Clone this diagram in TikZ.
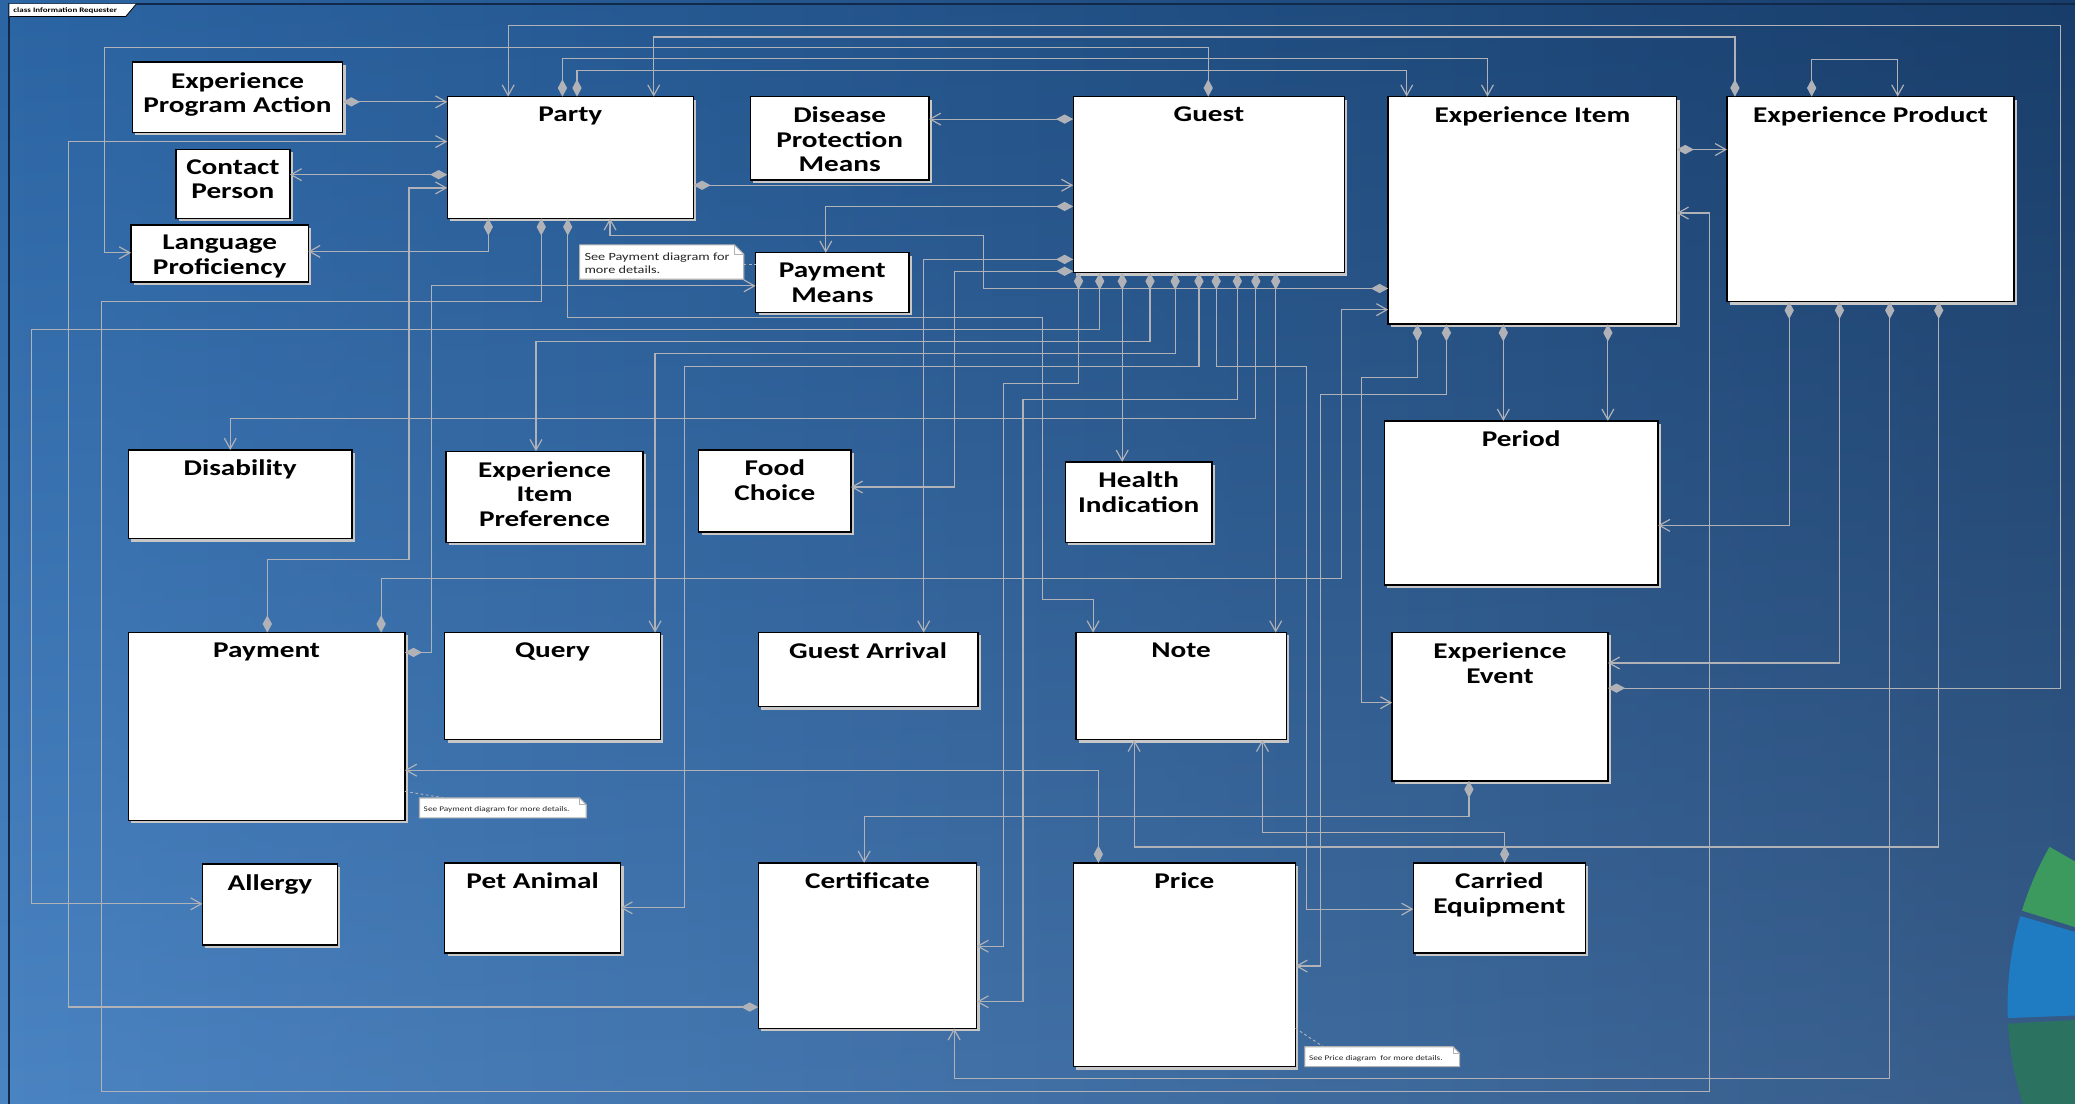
\documentclass[tikz,border=0pt]{standalone}
\usepackage{fontspec}
\setmainfont{Carlito}[FakeStretch=1.3]
\usetikzlibrary{arrows.meta,shadows}
\definecolor{lnc}{RGB}{176,178,184}
\definecolor{bgL}{HTML}{3273BA}
\definecolor{bgR}{HTML}{1C4679}
\definecolor{frm}{HTML}{10284A}
\definecolor{decG}{HTML}{3D9A5E}
\definecolor{decB}{HTML}{1F7CC2}
\definecolor{decT}{HTML}{2B7260}
\newcommand\umlbox[6]{%
  \node[box, minimum width={#4-#2}, minimum height={#5-#3}] (#1) at (#2,#3) {};
  \node[title] (#1-t) at ([yshift=-7.5pt]#1.north) {#6};}
\begin{document}
\begin{tikzpicture}[x=1pt,y=-1pt,
  box/.style={draw=black, line width=1.1pt, fill=white, inner sep=0pt, outer sep=0pt, anchor=north west,
    drop shadow={shadow xshift=2.2pt, shadow yshift=-2.2pt, fill=black!22, opacity=1}},
  title/.style={font=\bfseries\fontsize{17}{18.5}\selectfont, align=center, inner sep=0pt, anchor=north, text=black},
  conn/.style={draw=lnc, line width=0.9pt},
  comp/.style={conn, {Diamond[length=13pt,width=7pt,fill=lnc]}-{Straight Barb[length=8pt,width=9pt]}},
  notelink/.style={draw=lnc, line width=0.7pt, dash pattern=on 2pt off 2pt},
  notearea/.style={inner sep=0pt, outer sep=0pt, anchor=north west},
  notefill/.style={fill=white, draw=black!30, line width=0.8pt},
  notetext/.style={inner sep=0pt, anchor=west, align=left, text=black!85}]
\useasboundingbox (0,0) rectangle (1568,834);
% background
\shade[left color=bgL, right color=bgR] (0,0) rectangle (1568,834);
\shade[top color=black, bottom color=white, opacity=0.12] (0,0) rectangle (1568,834);
\begin{scope}
  \clip (0,0) rectangle (1568,834);
  \fill[decG] (1760,760) -- ++(209.6:243) arc[start angle=209.6, end angle=197.2, radius=243] -- cycle;
  \fill[decB] (1760,760) -- ++(196.2:243) arc[start angle=196.2, end angle=177.8, radius=243] -- cycle;
  \fill[decT] (1760,760) -- ++(176.8:243) arc[start angle=176.8, end angle=140, radius=243] -- cycle;
\end{scope}
% frame
\draw[frm, line width=1.2pt] (1568,3) -- (7,3) -- (7,834);
\fill[white] (7,3) -- (103,3) -- (95,12.5) -- (7,12.5) -- cycle;
\draw[black, line width=0.6pt] (103,3) -- (95,12.5) -- (7,12.5);
\node[inner sep=0pt, anchor=west, font=\bfseries\fontsize{5.2}{6}\selectfont] (frametitle) at (10,8) {class Information Requester};

% boxes
\umlbox{epa}{100}{47}{259}{100}{Experience\\Program Action}
\umlbox{party}{338}{73}{524}{165}{Party}
\umlbox{contact}{133}{113}{219}{165}{Contact\\Person}
\umlbox{lang}{99}{170}{233}{213}{Language\\Proficiency}
\umlbox{dpm}{567}{73}{702}{136}{Disease\\Protection\\Means}
\umlbox{pm}{571}{191}{687}{236}{Payment\\Means}
\umlbox{guest}{811}{73}{1016}{206}{Guest}
\umlbox{ei}{1049}{73}{1267}{245}{Experience Item}
\umlbox{ep}{1305}{73}{1522}{228}{Experience Product}
\umlbox{dis}{97}{340}{266}{407}{Disability}
\umlbox{eip}{337}{341}{486}{410}{Experience\\Item\\Preference}
\umlbox{food}{528}{340}{643}{402}{Food\\Choice}
\umlbox{health}{805}{349}{916}{410}{Health\\Indication}
\umlbox{period}{1046}{318}{1253}{442}{Period}
\umlbox{pay}{97}{478}{306}{620}{Payment}
\umlbox{query}{336}{478}{499}{559}{Query}
\umlbox{ga}{573}{478}{739}{534}{Guest Arrival}
\umlbox{note}{813}{478}{972}{559}{Note}
\umlbox{ee}{1052}{478}{1215}{590}{Experience\\Event}
\umlbox{allergy}{153}{653}{255}{714}{Allergy}
\umlbox{pet}{336}{652}{469}{720}{Pet Animal}
\umlbox{cert}{573}{652}{738}{777}{Certificate}
\umlbox{price}{811}{652}{979}{806}{Price}
\umlbox{ce}{1068}{652}{1198}{720}{Carried\\Equipment}

% notes
\node[notearea, minimum width=124, minimum height=26] (n1) at (438,185) {};
\path[notefill] (n1.south west) -- (n1.north west) -- ([xshift=-7pt]n1.north east) -- ([yshift=-7pt]n1.north east) -- (n1.south east) -- cycle;
\draw[black!30, line width=0.6pt] ([xshift=-7pt]n1.north east) -- ([xshift=-7pt,yshift=-7pt]n1.north east) -- ([yshift=-7pt]n1.north east);
\node[notetext, font=\fontsize{8.3}{9.3}\selectfont] (n1-t) at ([xshift=3.5pt,yshift=-1pt]n1.west) {See Payment diagram for\\more details.};

\node[notearea, minimum width=126, minimum height=15] (n2) at (317,603) {};
\path[notefill] (n2.south west) -- (n2.north west) -- ([xshift=-5pt]n2.north east) -- ([yshift=-5pt]n2.north east) -- (n2.south east) -- cycle;
\draw[black!30, line width=0.5pt] ([xshift=-5pt]n2.north east) -- ([xshift=-5pt,yshift=-5pt]n2.north east) -- ([yshift=-5pt]n2.north east);
\node[notetext, font=\fontsize{5.4}{6}\selectfont] (n2-t) at ([xshift=3pt,yshift=-1.5pt]n2.west) {See Payment diagram for more details.};

\node[notearea, minimum width=117, minimum height=15] (n3) at (986,791) {};
\path[notefill] (n3.south west) -- (n3.north west) -- ([xshift=-5pt]n3.north east) -- ([yshift=-5pt]n3.north east) -- (n3.south east) -- cycle;
\draw[black!30, line width=0.5pt] ([xshift=-5pt]n3.north east) -- ([xshift=-5pt,yshift=-5pt]n3.north east) -- ([yshift=-5pt]n3.north east);
\node[notetext, font=\fontsize{5.4}{6}\selectfont] (n3-t) at ([xshift=3pt,yshift=-1.5pt]n3.west) {See Price diagram\ \ for more details.};

\draw[notelink] (n1.east |- 0,200) -- (pm.west |- 0,200);
\draw[notelink] (pay.east |- 0,598) -- (n2.north -| 336,0);
\draw[notelink] (price.east |- 0,777) -- (n3.north -| 1000,0);

% connectors
\draw[comp] (epa.east |- 0,77) -- (party.west |- 0,77);
\draw[comp] (party.west |- 0,132) -- (contact.east |- 0,132);
\draw[comp] (party.south -| 369,0) |- (lang.east |- 0,190);
\draw[comp] (cert.west |- 0,761) -| (52,107) -- (party.west |- 0,107);
\draw[comp] (pay.north -| 202,0) |- (309,423) |- (party.west |- 0,142);
\draw[comp] (guest.north -| 913,0) |- (79,36) |- (lang.west |- 0,191);
\draw[comp] (ee.east |- 0,520) -| (1557,19) -| (party.north -| 384,0);
\draw[comp] (ep.north -| 1311,0) |- (494,28) -- (party.north -| 494,0);
\draw[comp] (party.north -| 425,0) |- (1124,44) -- (ei.north -| 1124,0);
\draw[comp] (party.north -| 436,0) |- (1063,53) -- (ei.north -| 1063,0);
\draw[comp] (ep.north -| 1369,0) |- (1434,45) -- (ep.north -| 1434,0);
\draw[comp] (ei.east |- 0,113) -- (ep.west |- 0,113);
\draw[comp] (party.east |- 0,140) -- (guest.west |- 0,140);
\draw[comp] (guest.west |- 0,90) -- (dpm.east |- 0,90);
\draw[comp] (guest.west |- 0,156) -| (pm.north -| 624,0);
\draw[comp] (guest.west |- 0,196) -| (ga.north -| 698,0);
\draw[comp] (guest.west |- 0,205) -| (721,368) -- (food.east |- 0,368);
\draw[comp] (ei.west |- 0,218) -| (743,178) -| (party.south -| 461,0);
\draw[comp] (pay.east |- 0,493) -| (326,216) -- (pm.west |- 0,216);
\draw[comp] (party.south -| 409,0) |- (77,228) |- (1292,825) |- (ei.east |- 0,161);
\draw[comp] (party.south -| 429,0) |- (788,240) |- (826,453) -- (note.north -| 826,0);
\draw[comp] (guest.south -| 815,0) |- (758,290) |- (cert.east |- 0,715);
\draw[comp] (guest.south -| 831,0) |- (24,249) |- (allergy.west |- 0,683);
\draw[comp] (guest.south -| 848,0) -- (health.north -| 848,0);
\draw[comp] (guest.south -| 869,0) |- (405,258) -- (eip.north -| 405,0);
\draw[comp] (guest.south -| 888,0) |- (495,267) -- (query.north -| 495,0);
\draw[comp] (guest.south -| 906,0) |- (517,277) |- (pet.east |- 0,686);
\draw[comp] (guest.south -| 919,0) |- (987,277) |- (ce.west |- 0,687);
\draw[comp] (guest.south -| 935,0) |- (773,302) |- (cert.east |- 0,757);
\draw[comp] (guest.south -| 949,0) |- (174,316) -- (dis.north -| 174,0);
\draw[comp] (guest.south -| 964,0) -- (note.north -| 964,0);
\draw[comp] (ei.south -| 1071,0) |- (1029,285) |- (ee.west |- 0,531);
\draw[comp] (ei.south -| 1093,0) |- (998,298) |- (price.east |- 0,730);
\draw[comp] (ei.south -| 1136,0) -- (period.north -| 1136,0);
\draw[comp] (ei.south -| 1215,0) -- (period.north -| 1215,0);
\draw[comp] (pay.north -| 288,0) |- (1014,437) |- (ei.west |- 0,234);
\draw[comp] (ep.south -| 1352,0) |- (period.east |- 0,397);
\draw[comp] (ep.south -| 1390,0) |- (ee.east |- 0,501);
\draw[comp] (ep.south -| 1428,0) |- (721,815) -- (cert.south -| 721,0);
\draw[comp] (ep.south -| 1465,0) |- (857,640) -- (note.south -| 857,0);
\draw[comp] (ce.north -| 1137,0) |- (954,629) -- (note.south -| 954,0);
\draw[comp] (ee.south -| 1110,0) |- (653,617) -- (cert.north -| 653,0);
\draw[comp] (price.north -| 830,0) |- (pay.east |- 0,582);
\end{tikzpicture}
\end{document}
